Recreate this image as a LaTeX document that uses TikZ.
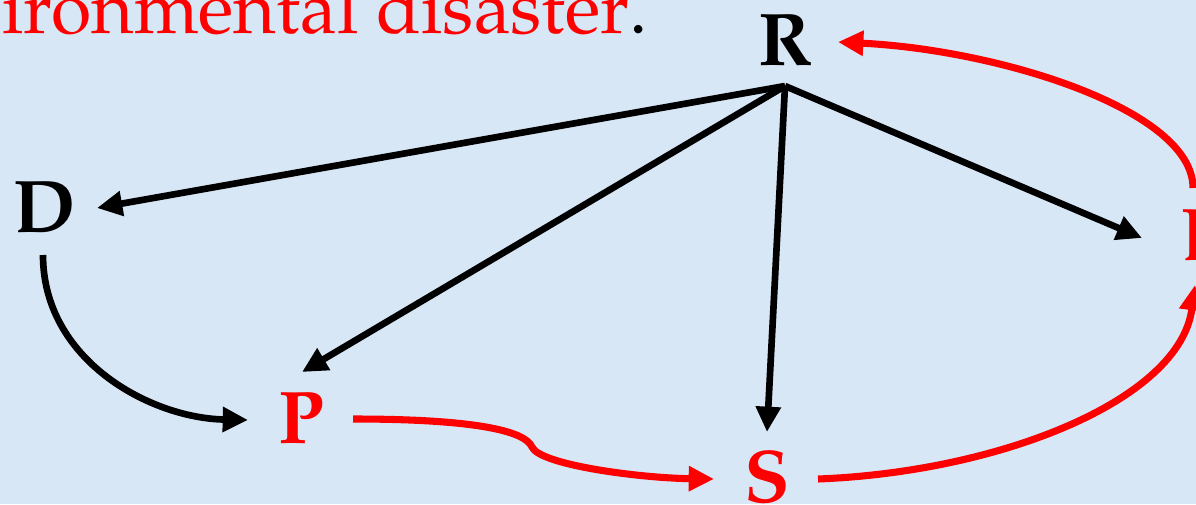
\documentclass[tikz,border=0pt]{standalone}
\usepackage[T1]{fontenc}
\usepackage{mathpazo}
\usetikzlibrary{arrows.meta,calc}
\definecolor{bgblue}{RGB}{216,231,246}
\definecolor{pred}{RGB}{255,0,0}
\tikzset{
  letter/.style={inner sep=0pt,anchor=base,font=\fontsize{56}{60}\selectfont\bfseries},
  blk/.style={line width=5pt,draw=black,-{Triangle[length=19pt,width=18pt]}},
  redc/.style={line width=5.3pt,draw=pred,-{Triangle[length=19pt,width=18pt]}},
}
\begin{document}
\begin{tikzpicture}[x=0.75pt,y=-0.75pt]
\fill[bgblue] (0,0) rectangle (1196,504);
\useasboundingbox (0,0) rectangle (1196,504);
\node[inner sep=0pt,anchor=base west,font=\fontsize{55}{60}\selectfont,text=pred] (title) at (2,33) {ironmental disaster\textcolor{black}{.}};
\node[letter] (R) at (785,65) {R};
\node[letter] (D) at (45,232) {D};
\node[letter,text=pred] (P) at (301,443) {P};
\node[letter,text=pred] (S) at (767,502) {S};
\node[letter,text=pred,anchor=base west] (E) at (1180,260) {E};
% black arrows from R
\draw[blk] ($(R.base)+(0,21)$) -- ($(D.base)+(52,-24)$);
\draw[blk] ($(R.base)+(0,21)$) -- ($(P.base)+(1,-71)$);
\draw[blk] ($(R.base)+(0,21)$) -- ($(S.base)+(0,-70)$);
\draw[blk] ($(R.base)+(0,21)$) -- ($(E.base west)+(-38,-22)$);
% D to P
\draw[blk] ($(D.base)+(-2,23)$) .. controls (43,360) and (150,418) .. ($(P.base)+(-53,-23)$);
% red arrows
\draw[redc] ($(P.base)+(52,-24)$) .. controls (470,419) and (525,430) .. (532,447) .. controls (540,465) and (640,478) .. ($(S.base)+(-53,-23)$);
\draw[redc] ($(S.base)+(51,-23)$) .. controls (1000,472) and (1180,400) .. ($(E.base west)+(15,25)$);
\draw[redc] ($(E.base west)+(13,-72)$) .. controls (1193,110) and (1000,50) .. ($(R.base)+(53,-23)$);
\end{tikzpicture}
\end{document}
